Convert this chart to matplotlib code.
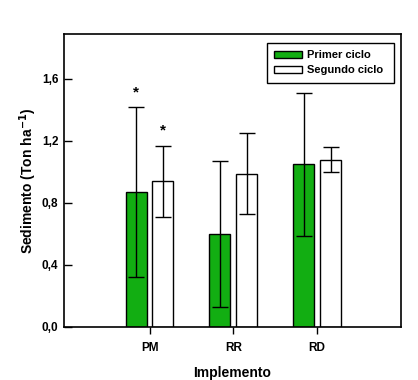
import numpy as np
import matplotlib
matplotlib.use('Agg')
import matplotlib.pyplot as plt
from matplotlib.ticker import FuncFormatter

plt.rcParams['font.family'] = ['Liberation Sans', 'DejaVu Sans']
plt.rcParams['font.weight'] = 'bold'

# data
implementos = ['PM', 'RR', 'RD']
primer = [0.87, 0.60, 1.05]
primer_err = [0.55, 0.47, 0.46]
segundo = [0.94, 0.99, 1.08]
segundo_err = [0.23, 0.26, 0.08]
# significance marks: (group index, series, y)
stars = [(0, 'primer', 1.51), (0, 'segundo', 1.27)]

verde = '#12AE12'
w = 0.25
off = 0.16

fig = plt.figure(figsize=(4.18, 3.80), dpi=100)
ax = fig.add_axes([0.1531, 0.1395, 0.8062, 0.7710])

x = np.arange(len(implementos))
ekw = dict(elinewidth=1.0, capthick=1.0, ecolor='black')
ax.bar(x - off, primer, w, color=verde, edgecolor='black', linewidth=1.0,
       yerr=primer_err, capsize=5.5, error_kw=ekw, label='Primer ciclo', zorder=2)
ax.bar(x + off, segundo, w, color='white', edgecolor='black', linewidth=1.0,
       yerr=segundo_err, capsize=5.5, error_kw=ekw, label='Segundo ciclo ', zorder=2)

for i, serie, yy in stars:
    xx = x[i] - off if serie == 'primer' else x[i] + off
    ax.text(xx, yy, '*', ha='center', va='center', fontsize=11, fontweight='bold')

ax.set_xlim(-1.02, 3.0)
ax.set_ylim(0, 1.89)
ax.set_xticks(x)
ax.set_xticklabels(implementos, fontsize=8.5, fontweight='bold')
ax.set_yticks([0, 0.4, 0.8, 1.2, 1.6])
ax.yaxis.set_major_formatter(FuncFormatter(lambda v, p: ('%.1f' % v).replace('.', ',')))
for lab in ax.get_yticklabels():
    lab.set_fontsize(8.5)
    lab.set_fontweight('bold')
ax.tick_params(axis='y', direction='in', length=6, width=1.0, pad=4)
ax.tick_params(axis='x', direction='out', length=5, width=1.0, pad=6)
for s in ax.spines.values():
    s.set_linewidth(1.2)

ax.set_xlabel('Implemento', fontsize=10, fontweight='bold', labelpad=8.5)
ax.set_ylabel('Sedimento (Ton ha$^{\\mathbf{-1}}$)', fontsize=10, fontweight='bold', labelpad=2)

leg = ax.legend(loc='upper left', bbox_to_anchor=(0.638, 0.8876), bbox_transform=fig.transFigure,
                borderaxespad=0, fancybox=False, edgecolor='black', framealpha=1,
                prop={'size': 8, 'weight': 'bold'}, handlelength=2.45, handleheight=0.6,
                handletextpad=0.5, labelspacing=0.45, borderpad=0.7)
leg.get_frame().set_linewidth(1.0)

fig.savefig('out.png', dpi=100)
